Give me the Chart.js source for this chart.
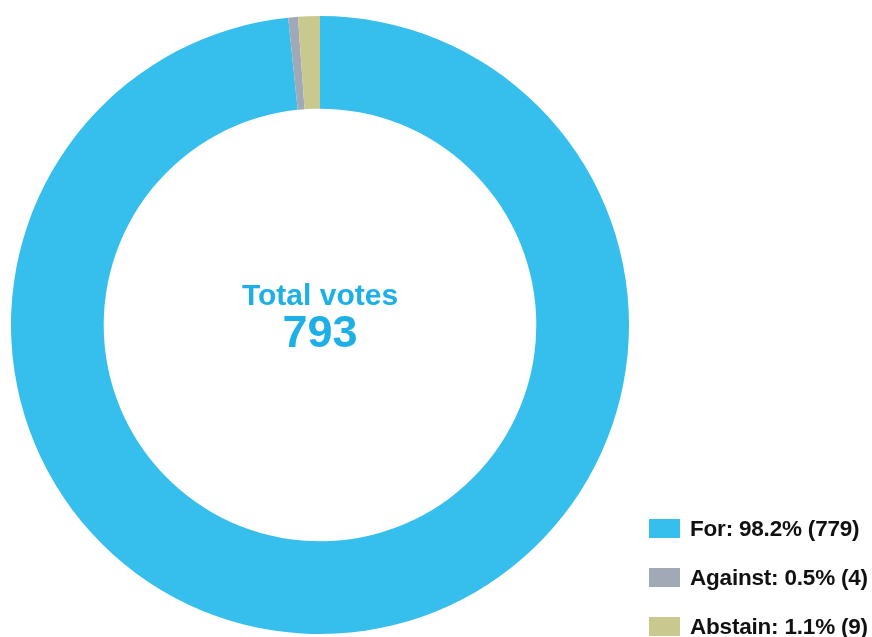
<!DOCTYPE html>
<html>
<head>
<meta charset="utf-8">
<script src="https://cdn.jsdelivr.net/npm/chart.js@4/dist/chart.umd.min.js"></script>
<style>
    html, body { margin: 0; padding: 0; background: #fff; }
    #wrap { position: relative; width: 872px; height: 637px; overflow: hidden; }
    #voteChart { position: absolute; left: 0; top: 0; }
    #legend { position: absolute; left: 649px; top: 504px; font-family: "Liberation Sans", Arial, Helvetica, sans-serif; font-weight: bold; font-size: 22.5px; letter-spacing: -0.2px; color: #111; }
    .row { display: flex; align-items: center; height: 49px; white-space: nowrap; }
    .box { width: 31px; height: 19px; margin-right: 10px; }
</style>
</head>
<body>
<div id="wrap">
    <canvas id="voteChart" width="872" height="637"></canvas>
    <div id="legend"></div>
</div>
<script>
// Dados da votação
const labels = ['For', 'Against', 'Abstain'];
const votes = [779, 4, 9];
const percents = ['98.2%', '0.5%', '1.1%'];
const colors = ['#36BEED', '#A1A9B7', '#C9C98F'];
const totalVotes = 793;

// Texto central
const centerText = {
    id: 'centerText',
    afterDraw(chart) {
        const ctx = chart.ctx;
        const meta = chart.getDatasetMeta(0).data[0];
        const x = meta.x;
        const y = meta.y;
        ctx.save();
        ctx.fillStyle = '#1CB0E6';
        ctx.textAlign = 'center';
        ctx.textBaseline = 'alphabetic';
        ctx.font = 'bold 30px "Liberation Sans", Arial, sans-serif';
        ctx.fillText('Total votes', x, y - 20);
        ctx.font = 'bold 45px "Liberation Sans", Arial, sans-serif';
        ctx.fillText(String(totalVotes), x, y + 22);
        ctx.restore();
    }
};

new Chart(document.getElementById('voteChart').getContext('2d'), {
    type: 'doughnut',
    data: {
        labels: labels,
        datasets: [{
            data: votes,
            backgroundColor: colors,
            borderWidth: 0
        }]
    },
    options: {
        responsive: false,
        animation: false,
        cutout: '70%',
        layout: {
            padding: { left: 11, right: 243, top: 16, bottom: 3 }
        },
        plugins: {
            legend: { display: false },
            tooltip: { enabled: false }
        }
    },
    plugins: [centerText]
});

// Legenda HTML
const legend = document.getElementById('legend');
labels.forEach((label, i) => {
    const row = document.createElement('div');
    row.className = 'row';
    row.innerHTML = `<span class="box" style="background:${colors[i]}"></span>${label}: ${percents[i]} (${votes[i]})`;
    legend.appendChild(row);
});
</script>
</body>
</html>
